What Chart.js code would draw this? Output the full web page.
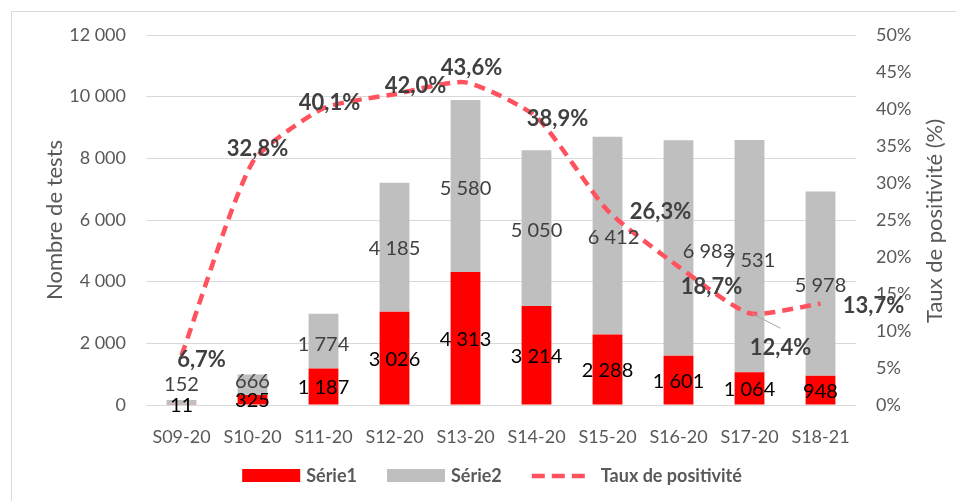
<!DOCTYPE html>
<html>
<head>
<meta charset="utf-8">
<script src="https://cdn.jsdelivr.net/npm/chart.js@4.4.1/dist/chart.umd.min.js"></script>
<style>
  html, body { margin: 0; padding: 0; background: #fff; }
  canvas { display: block; }
</style>
</head>
<body>
<canvas id="chart" width="956" height="501"></canvas>
<script>
// Weekly tests and positivity rate

const weeks = ["S09-20", "S10-20", "S11-20", "S12-20", "S13-20", "S14-20", "S15-20", "S16-20", "S17-20", "S18-21"];
const serie1 = [11, 325, 1187, 3026, 4313, 3214, 2288, 1601, 1064, 948];
const serie2 = [152, 666, 1774, 4185, 5580, 5050, 6412, 6983, 7531, 5978];
const tauxPositivite = [6.7, 32.8, 40.1, 42.0, 43.6, 38.9, 26.3, 18.7, 12.4, 13.7];

// label nudges, like the manually moved labels in the sheet
const rateLabelShift = [[20, 4], [5, -13], [6, -5], [21, -8], [6, -14], [21, 2], [53, 2], [33, 20], [31, 35], [53, 2]];
const serie2LabelShift = [[0, -18], [0, -3], [0, 3], [0, 1], [0, 3], [0, 2], [6, 2], [30, 4], [0, 4], [0, 2]];

const FONT = "Lato";
const GREY_TEXT = "#595959";
const LINE_RED = "rgb(255, 82, 94)";

function formatThousands(v) {
  return String(v).replace(/\B(?=(\d{3})+(?!\d))/g, " ");
}

function formatRate(v) {
  return v.toFixed(1).replace(".", ",") + "%";
}

const frame = {
  id: "frame",
  beforeDraw(chart) {
    const ctx = chart.ctx;
    ctx.save();
    ctx.fillStyle = "#fff";
    ctx.fillRect(0, 0, chart.width, chart.height);
    ctx.strokeStyle = "#d9d9d9";
    ctx.lineWidth = 1;
    ctx.strokeRect(11.5, 11.5, chart.width + 10, chart.height + 10);
    ctx.restore();
  },
};

const valueLabels = {
  id: "valueLabels",
  afterDatasetsDraw(chart) {
    const ctx = chart.ctx;
    ctx.save();
    ctx.textAlign = "center";
    ctx.textBaseline = "middle";

    // bar labels
    const bars1 = chart.getDatasetMeta(0).data;
    const bars2 = chart.getDatasetMeta(1).data;
    ctx.font = `20px ${FONT}`;
    ctx.fillStyle = "#000";
    bars1.forEach((bar, i) => {
      ctx.fillText(formatThousands(serie1[i]), bar.x, (bar.y + bar.base) / 2 + 1);
    });
    ctx.fillStyle = "#404040";
    bars2.forEach((bar, i) => {
      const [dx, dy] = serie2LabelShift[i];
      ctx.fillText(formatThousands(serie2[i]), bar.x + dx, (bar.y + bar.base) / 2 + dy);
    });

    // leader line for 12,4%
    const pts = chart.getDatasetMeta(2).data;
    const p8 = pts[8];
    ctx.strokeStyle = "#a6a6a6";
    ctx.lineWidth = 1;
    ctx.beginPath();
    ctx.moveTo(p8.x + 2, p8.y);
    ctx.lineTo(p8.x + 31, p8.y + 15);
    ctx.stroke();

    // rate labels
    ctx.font = `bold 22px ${FONT}`;
    ctx.fillStyle = "#404040";
    pts.forEach((pt, i) => {
      const [dx, dy] = rateLabelShift[i];
      ctx.fillText(formatRate(tauxPositivite[i]), pt.x + dx, pt.y + dy);
    });
    ctx.restore();
  },
  afterDraw(chart) {
    const ctx = chart.ctx;
    const area = chart.chartArea;
    ctx.save();

    // right axis title, read bottom to top
    ctx.translate(935, (area.top + area.bottom) / 2 + 1);
    ctx.rotate(-Math.PI / 2);
    ctx.font = `22px ${FONT}`;
    ctx.fillStyle = GREY_TEXT;
    ctx.textAlign = "center";
    ctx.textBaseline = "middle";
    ctx.fillText("Taux de positivité (%)", 0, 0);
    ctx.restore();

    // legend
    const items = chart.data.datasets.map((ds) => ({ label: ds.label, ds }));
    ctx.save();
    ctx.font = `bold 18px ${FONT}`;
    const boxW = 58;
    const widths = items.map((it) => boxW + (it.ds.type === "line" ? 11 : 6) + ctx.measureText(it.label).width);
    const total = widths.reduce((a, b) => a + b, 0) + 30 * (items.length - 1);
    let x = 492 - total / 2;
    const y = 476;
    ctx.textBaseline = "middle";
    items.forEach((it, i) => {
      if (it.ds.type === "line") {
        ctx.strokeStyle = it.ds.borderColor;
        ctx.lineWidth = it.ds.borderWidth;
        ctx.setLineDash([13, 7]);
        ctx.beginPath();
        ctx.moveTo(x, y);
        ctx.lineTo(x + boxW - 5, y);
        ctx.stroke();
        ctx.setLineDash([]);
        ctx.fillStyle = GREY_TEXT;
        ctx.fillText(it.label, x + boxW + 11, y);
      } else {
        ctx.fillStyle = it.ds.backgroundColor;
        ctx.fillRect(x, y - 7, boxW, 13);
        ctx.fillStyle = GREY_TEXT;
        ctx.fillText(it.label, x + boxW + 6, y);
      }
      x += widths[i] + 30;
    });
    ctx.restore();
  },
};

new Chart(document.getElementById("chart"), {
  type: "bar",
  data: {
    labels: weeks,
    datasets: [
      {
        label: "Série1",
        data: serie1,
        backgroundColor: "#ff0000",
        yAxisID: "y",
        order: 2,
        categoryPercentage: 1,
        barPercentage: 0.42,
      },
      {
        label: "Série2",
        data: serie2,
        backgroundColor: "#bfbfbf",
        yAxisID: "y",
        order: 3,
        categoryPercentage: 1,
        barPercentage: 0.42,
      },
      {
        type: "line",
        label: "Taux de positivité",
        data: tauxPositivite,
        borderColor: LINE_RED,
        borderWidth: 4.5,
        borderDash: [11, 7],
        pointRadius: 0,
        tension: 0.2,
        fill: false,
        yAxisID: "y1",
        order: 1,
      },
    ],
  },
  options: {
    responsive: false,
    devicePixelRatio: 1,
    animation: false,
    layout: { padding: { left: 12, right: 12, top: 35, bottom: 0 } },
    plugins: {
      legend: { display: false },
      tooltip: { enabled: false },
    },
    scales: {
      x: {
        stacked: true,
        grid: { display: false },
        border: { display: false },
        ticks: { color: GREY_TEXT, font: { family: FONT, size: 18 }, padding: 13, maxRotation: 0 },
        afterFit: (s) => { s.height = 96; },
      },
      y: {
        stacked: true,
        position: "left",
        min: 0,
        max: 12000,
        ticks: {
          stepSize: 2000,
          padding: 20,
          color: GREY_TEXT,
          font: { family: FONT, size: 18 },
          callback: (v) => formatThousands(v),
        },
        grid: { color: "#d9d9d9", lineWidth: 1, drawTicks: false },
        border: { display: false },
        title: {
          display: true,
          text: "Nombre de tests",
          color: GREY_TEXT,
          font: { family: FONT, size: 22 },
          padding: { top: 30, bottom: 0 },
        },
        afterFit: (s) => { s.width = 134; },
      },
      y1: {
        position: "right",
        min: 0,
        max: 50,
        ticks: {
          stepSize: 5,
          padding: 20,
          color: GREY_TEXT,
          font: { family: FONT, size: 18 },
          callback: (v) => v + "%",
        },
        grid: { display: false, drawTicks: false },
        border: { display: false },
        afterFit: (s) => { s.width = 88; },
      },
    },
  },
  plugins: [frame, valueLabels],
});
</script>
</body>
</html>
